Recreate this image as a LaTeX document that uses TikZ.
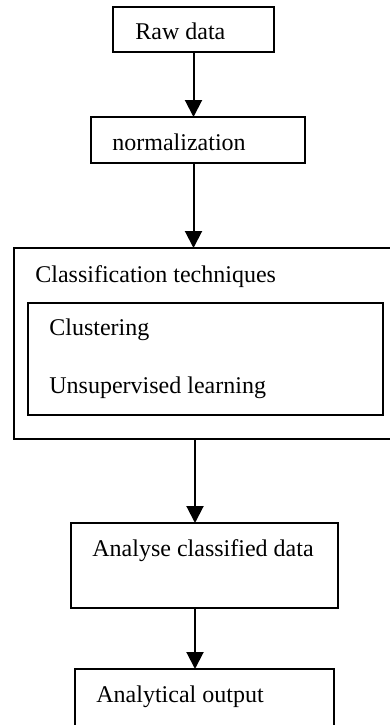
\documentclass[tikz,border=0pt]{standalone}
\usepackage{fontspec}
\setmainfont{Liberation Serif}
\usetikzlibrary{arrows.meta}
\begin{document}
\begin{tikzpicture}[x=0.5pt,y=-0.5pt,
  boxnode/.style={draw, line width=0.9pt, inner sep=0pt, outer sep=0pt, rectangle},
  txt/.style={anchor=base west, inner sep=0pt, font=\fontsize{12pt}{14pt}\selectfont},
  flow/.style={line width=1pt, -{Triangle[width=8.5pt,length=8.5pt]}}]
\useasboundingbox (0,0) rectangle (390,725);
\node[boxnode, minimum width=80.5pt, minimum height=22.5pt] (raw) at (193.5,29.5) {};
\node[boxnode, minimum width=107pt, minimum height=23pt] (norm) at (198,140) {};
\node[boxnode, minimum width=189pt, minimum height=95.5pt] (outer) at (203,343.5) {};
\node[boxnode, minimum width=177.5pt, minimum height=56pt] (inner) at (205.5,359) {};
\node[boxnode, minimum width=133.5pt, minimum height=42.5pt] (analyse) at (204.5,565.5) {};
\node[boxnode, minimum width=129.5pt, minimum height=29.5pt] (analytic) at (204.5,698.5) {};
\node[txt] (traw) at (135,39) {Raw data};
\node[txt] (tnorm) at (112,150) {normalization};
\node[txt] (tclass) at (35,282) {Classification techniques};
\node[txt] (tclust) at (49,335) {Clustering};
\node[txt] (tunsup) at (49,393) {Unsupervised learning};
\node[txt] (tanal) at (92,556) {Analyse classified data};
\node[txt] (tout) at (96,702) {Analytical output};
\coordinate (ax) at (195,0);
\draw[flow] (raw.south) -- (raw.south |- norm.north);
\draw[flow] (raw.south |- norm.south) -- (raw.south |- outer.north);
\draw[flow] (ax |- outer.south) -- (ax |- analyse.north);
\draw[flow] (ax |- analyse.south) -- (ax |- analytic.north);
\end{tikzpicture}
\end{document}
